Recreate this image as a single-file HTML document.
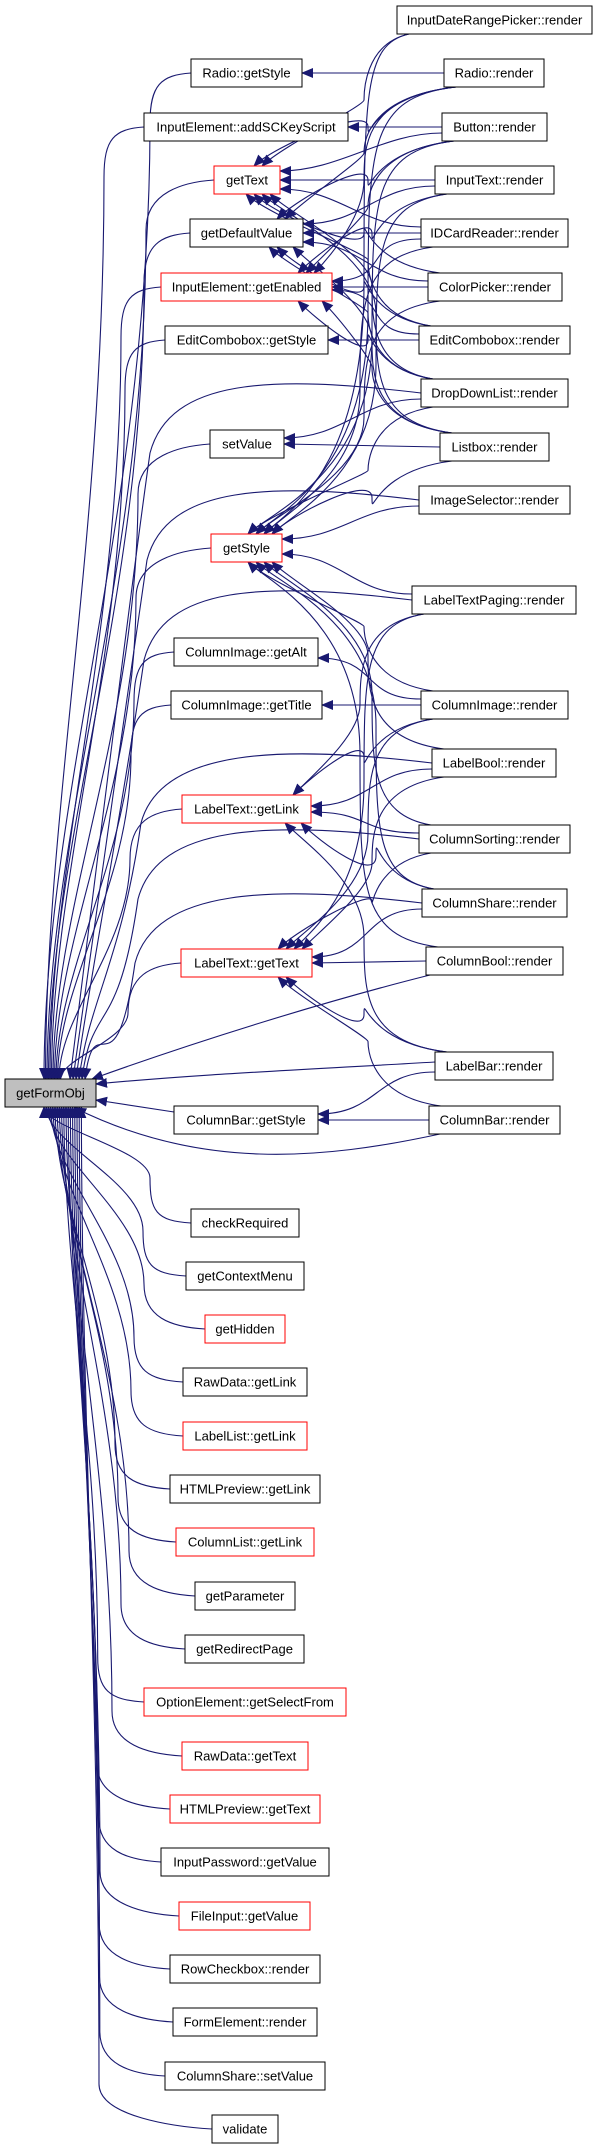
<!DOCTYPE html>
<html><head><meta charset="utf-8">
<style>
html,body{margin:0;padding:0;background:#fff;}
svg{display:block;}
text{font-family:"Liberation Sans",Arial,sans-serif;font-size:13px;fill:#000;text-anchor:middle;}
</style></head>
<body>
<svg id="s" width="595" height="2149" viewBox="0 0 595 2149" xmlns="http://www.w3.org/2000/svg">
<defs>
<marker id="a" markerUnits="userSpaceOnUse" markerWidth="12" markerHeight="10" refX="11" refY="5" orient="auto">
<path d="M0,0 L12,5 L0,10 z" fill="#191970"/>
</marker>
</defs>
<g id="edges" fill="none" stroke="#191970" stroke-width="1.1"></g>
<g id="nodes">
<rect x="397" y="6" width="195" height="28" fill="#fff" stroke="#000"/><text x="494.5" y="24.5">InputDateRangePicker::render</text>
<rect x="444" y="59" width="100" height="28" fill="#fff" stroke="#000"/><text x="494" y="77.5">Radio::render</text>
<rect x="442" y="113" width="105" height="28" fill="#fff" stroke="#000"/><text x="494.5" y="131.5">Button::render</text>
<rect x="435" y="166" width="119" height="28" fill="#fff" stroke="#000"/><text x="494.5" y="184.5">InputText::render</text>
<rect x="421" y="219" width="147" height="28" fill="#fff" stroke="#000"/><text x="494.5" y="237.5">IDCardReader::render</text>
<rect x="428" y="273" width="134" height="28" fill="#fff" stroke="#000"/><text x="495" y="291.5">ColorPicker::render</text>
<rect x="419" y="326" width="151" height="28" fill="#fff" stroke="#000"/><text x="494.5" y="344.5">EditCombobox::render</text>
<rect x="421" y="379" width="147" height="28" fill="#fff" stroke="#000"/><text x="494.5" y="397.5">DropDownList::render</text>
<rect x="440" y="433" width="109" height="28" fill="#fff" stroke="#000"/><text x="494.5" y="451.5">Listbox::render</text>
<rect x="419" y="486" width="151" height="28" fill="#fff" stroke="#000"/><text x="494.5" y="504.5">ImageSelector::render</text>
<rect x="412" y="586" width="164" height="28" fill="#fff" stroke="#000"/><text x="494" y="604.5">LabelTextPaging::render</text>
<rect x="421" y="691" width="147" height="28" fill="#fff" stroke="#000"/><text x="494.5" y="709.5">ColumnImage::render</text>
<rect x="432" y="749" width="124" height="28" fill="#fff" stroke="#000"/><text x="494" y="767.5">LabelBool::render</text>
<rect x="419" y="825" width="151" height="28" fill="#fff" stroke="#000"/><text x="494.5" y="843.5">ColumnSorting::render</text>
<rect x="422" y="889" width="145" height="28" fill="#fff" stroke="#000"/><text x="494.5" y="907.5">ColumnShare::render</text>
<rect x="426" y="947" width="137" height="28" fill="#fff" stroke="#000"/><text x="494.5" y="965.5">ColumnBool::render</text>
<rect x="435" y="1052" width="118" height="28" fill="#fff" stroke="#000"/><text x="494" y="1070.5">LabelBar::render</text>
<rect x="429" y="1106" width="131" height="28" fill="#fff" stroke="#000"/><text x="494.5" y="1124.5">ColumnBar::render</text>

<rect x="191" y="59" width="111" height="28" fill="#fff" stroke="#000"/><text x="246.5" y="77.5">Radio::getStyle</text>
<rect x="144" y="113" width="204" height="28" fill="#fff" stroke="#000"/><text x="246" y="131.5">InputElement::addSCKeyScript</text>
<rect x="214" y="166" width="66" height="28" fill="#fff" stroke="#f00"/><text x="247" y="184.5">getText</text>
<rect x="190" y="219" width="113" height="28" fill="#fff" stroke="#000"/><text x="246.5" y="237.5">getDefaultValue</text>
<rect x="161" y="273" width="171" height="28" fill="#fff" stroke="#f00"/><text x="246.5" y="291.5">InputElement::getEnabled</text>
<rect x="165" y="326" width="163" height="28" fill="#fff" stroke="#000"/><text x="246.5" y="344.5">EditCombobox::getStyle</text>
<rect x="210" y="430" width="74" height="28" fill="#fff" stroke="#000"/><text x="247" y="448.5">setValue</text>
<rect x="211" y="534" width="71" height="28" fill="#fff" stroke="#f00"/><text x="246.5" y="552.5">getStyle</text>
<rect x="174" y="638" width="144" height="28" fill="#fff" stroke="#000"/><text x="246" y="656.5">ColumnImage::getAlt</text>
<rect x="171" y="691" width="151" height="28" fill="#fff" stroke="#000"/><text x="246.5" y="709.5">ColumnImage::getTitle</text>
<rect x="182" y="795" width="129" height="28" fill="#fff" stroke="#f00"/><text x="246.5" y="813.5">LabelText::getLink</text>
<rect x="181" y="949" width="131" height="28" fill="#fff" stroke="#f00"/><text x="246.5" y="967.5">LabelText::getText</text>
<rect x="174" y="1106" width="144" height="28" fill="#fff" stroke="#000"/><text x="246" y="1124.5">ColumnBar::getStyle</text>
<rect x="5" y="1079" width="91" height="28" fill="#bfbfbf" stroke="#000"/><text x="50.5" y="1097.5">getFormObj</text>

<rect x="191" y="1209" width="108" height="28" fill="#fff" stroke="#000"/><text x="245" y="1227.5">checkRequired</text>
<rect x="186" y="1262" width="118" height="28" fill="#fff" stroke="#000"/><text x="245" y="1280.5">getContextMenu</text>
<rect x="205" y="1315" width="80" height="28" fill="#fff" stroke="#f00"/><text x="245" y="1333.5">getHidden</text>
<rect x="183" y="1368" width="124" height="28" fill="#fff" stroke="#000"/><text x="245" y="1386.5">RawData::getLink</text>
<rect x="183" y="1422" width="124" height="28" fill="#fff" stroke="#f00"/><text x="245" y="1440.5">LabelList::getLink</text>
<rect x="170" y="1475" width="150" height="28" fill="#fff" stroke="#000"/><text x="245" y="1493.5">HTMLPreview::getLink</text>
<rect x="176" y="1528" width="138" height="28" fill="#fff" stroke="#f00"/><text x="245" y="1546.5">ColumnList::getLink</text>
<rect x="195" y="1582" width="100" height="28" fill="#fff" stroke="#000"/><text x="245" y="1600.5">getParameter</text>
<rect x="185" y="1635" width="119" height="28" fill="#fff" stroke="#000"/><text x="244.5" y="1653.5">getRedirectPage</text>
<rect x="144" y="1688" width="202" height="28" fill="#fff" stroke="#f00"/><text x="245" y="1706.5">OptionElement::getSelectFrom</text>
<rect x="182" y="1742" width="126" height="28" fill="#fff" stroke="#f00"/><text x="245" y="1760.5">RawData::getText</text>
<rect x="170" y="1795" width="150" height="28" fill="#fff" stroke="#f00"/><text x="245" y="1813.5">HTMLPreview::getText</text>
<rect x="161" y="1848" width="168" height="28" fill="#fff" stroke="#000"/><text x="245" y="1866.5">InputPassword::getValue</text>
<rect x="179" y="1902" width="131" height="28" fill="#fff" stroke="#f00"/><text x="244.5" y="1920.5">FileInput::getValue</text>
<rect x="170" y="1955" width="150" height="28" fill="#fff" stroke="#000"/><text x="245" y="1973.5">RowCheckbox::render</text>
<rect x="173" y="2008" width="144" height="28" fill="#fff" stroke="#000"/><text x="245" y="2026.5">FormElement::render</text>
<rect x="165" y="2062" width="160" height="28" fill="#fff" stroke="#000"/><text x="245" y="2080.5">ColumnShare::setValue</text>
<rect x="212" y="2115" width="66" height="28" fill="#fff" stroke="#000"/><text x="245" y="2133.5">validate</text>
</g>
</svg>
<script>
(function(){
var g=document.getElementById('edges');
var R={IDR:[397,6,592,34],RR:[444,59,544,87],BR:[442,113,547,141],ITR:[435,166,554,194],IDC:[421,219,568,247],CPR:[428,273,562,301],ECR:[419,326,570,354],DDL:[421,379,568,407],LBX:[440,433,549,461],ISR:[419,486,570,514],LTP:[412,586,576,614],CIR:[421,691,568,719],LBO:[432,749,556,777],CSO:[419,825,570,853],CSH:[422,889,567,917],CBO:[426,947,563,975],LBA:[435,1052,553,1080],CBR:[429,1106,560,1134]};
var M={RGS:[191,59,302,87],ADD:[144,113,348,141],GT:[214,166,280,194],GDV:[190,219,303,247],GE:[161,273,332,301],EGS:[165,326,328,354],SV:[210,430,284,458],GS:[211,534,282,562],GA:[174,638,318,666],GTI:[171,691,322,719],LGL:[182,795,311,823],LGT:[181,949,312,977],CBG:[174,1106,318,1134]};
var E=[['RR','RGS'],['BR','ADD'],
['IDR','GT'],['RR','GT'],['BR','GT'],['ITR','GT'],['IDC','GT'],['CPR','GT'],['ECR','GT'],['DDL','GT'],['LBX','GT'],
['RR','GDV'],['BR','GDV'],['ITR','GDV'],['IDC','GDV'],['CPR','GDV'],['ECR','GDV'],['DDL','GDV'],['LBX','GDV'],
['RR','GE'],['BR','GE'],['ITR','GE'],['IDC','GE'],['CPR','GE'],['ECR','GE'],['DDL','GE'],['LBX','GE'],
['ECR','EGS'],['DDL','SV'],['LBX','SV'],
['IDR','GS'],['RR','GS'],['BR','GS'],['ITR','GS'],['IDC','GS'],['CPR','GS'],['DDL','GS'],['LBX','GS'],['ISR','GS'],['LTP','GS'],['CIR','GS'],['LBO','GS'],['CSO','GS'],['CSH','GS'],['CBO','GS'],
['CIR','GA'],['CIR','GTI'],
['CIR','LGL'],['LBO','LGL'],['CSO','LGL'],['CSH','LGL'],['LTP','LGL'],['LBA','LGL'],
['LTP','LGT'],['CIR','LGT'],['CSO','LGT'],['CSH','LGT'],['CBO','LGT'],['LBA','LGT'],['CBR','LGT'],['LBO','LGT'],
['LBA','CBG'],['CBR','CBG']];
var cnt={};
function P(d,arrow){var p=document.createElementNS('http://www.w3.org/2000/svg','path');p.setAttribute('d',d);if(arrow)p.setAttribute('marker-end','url(#a)');g.appendChild(p);}
E.forEach(function(e){
 var s=R[e[0]],t=M[e[1]];
 var scy=(s[1]+s[3])/2,tcy=(t[1]+t[3])/2,dy=scy-tcy;
 cnt[e[1]]=(cnt[e[1]]||0)+1;var k=cnt[e[1]];
 var sx,sy,ex,ey,d;
 if(Math.abs(dy)<8){sx=s[0];sy=scy;ex=t[2];ey=tcy;d='M'+sx+','+sy+' L'+ex+','+ey;}
 else if(Math.abs(dy)<70){sx=s[0];sy=scy+(dy>0?-6:6);ex=t[2];ey=tcy+(dy>0?6:-6)+((k%3)-1)*3;
  d='M'+sx+','+sy+' C'+(sx-60)+','+sy+' '+(ex+60)+','+ey+' '+ex+','+ey;}
 else {sx=s[0]+12;sy=dy>0?s[1]:s[3];ex=t[2]-10-(k%4)*8;ey=dy>0?t[3]:t[1];
  var mx=360+(k%5)*4;
  d='M'+sx+','+sy+' C'+(mx)+','+(sy+(dy>0?-10:10))+' '+mx+','+(sy+(dy>0?-60:60))+' '+mx+','+((sy+ey)/2)+' C'+mx+','+(ey+(dy>0?60:-60))+' '+(ex+20)+','+(ey+(dy>0?20:-20))+' '+ex+','+ey;}
 P(d,true);
});
// upper middle nodes -> getFormObj top
var up=['RGS','ADD','GT','GDV','GE','EGS','SV','GS','GA','GTI','LGL','LGT'];
up.forEach(function(id,i){var t=M[id];var cy=(t[1]+t[3])/2;var xl=t[0];var tx=44+i*1.5;
 var bx=Math.min(xl-40,150-i*2);var y1=cy+50;
 var c1y=y1+0.4*(1079-y1), c2y=1079-0.3*(1079-y1);
 P('M'+xl+','+cy+' C'+(xl-30)+','+(cy+2)+' '+bx+','+(cy+12)+' '+bx+','+y1+' C'+bx+','+c1y+' '+tx+','+c2y+' '+tx+',1079',true);});
P('M174,1112 L96,1100',true);
// lower nodes -> getFormObj bottom
var low=[1223,1276,1329,1382,1436,1489,1542,1596,1649,1702,1756,1809,1862,1916,1969,2022,2076,2129];
var lx=[191,186,205,183,183,170,176,195,185,144,182,170,161,179,170,173,165,212];
low.forEach(function(cy,i){var xl=lx[i];var tx=44+i*2.2;var bx=Math.min(xl-40,150)-i*3;if(bx<95)bx=95+i*0.3;
 var y1=cy-45;var c1y=y1-0.4*(y1-1107), c2y=1107+0.3*(y1-1107);
 P('M'+xl+','+cy+' C'+(xl-35)+','+(cy-2)+' '+bx+','+(cy-12)+' '+bx+','+y1+' C'+bx+','+c1y+' '+tx+','+c2y+' '+tx+',1107',true);});
// right nodes -> getFormObj
var rr=[['DDL',0],['ISR',1],['LTP',2],['LBO',3],['CSO',4],['CSH',5]];
rr.forEach(function(a){var s=R[a[0]];var cy=(s[1]+s[3])/2;var i=a[1];var bx=150-i*3;var tx=70+i*3;
 P('M'+s[0]+','+cy+' C'+(s[0]-150)+','+(cy-18)+' '+(bx+20)+','+(cy-15)+' '+bx+','+(cy+60)+' C'+(bx-20)+','+(cy+200)+' '+(tx+10)+','+(1000)+' '+tx+',1079',true);});
P('M430,975 C330,1000 200,1040 92,1079',true);
P('M435,1062 C300,1070 200,1074 96,1084',true);
P('M440,1134 C320,1160 200,1170 75,1108',true);
})();
</script>
</body></html>
